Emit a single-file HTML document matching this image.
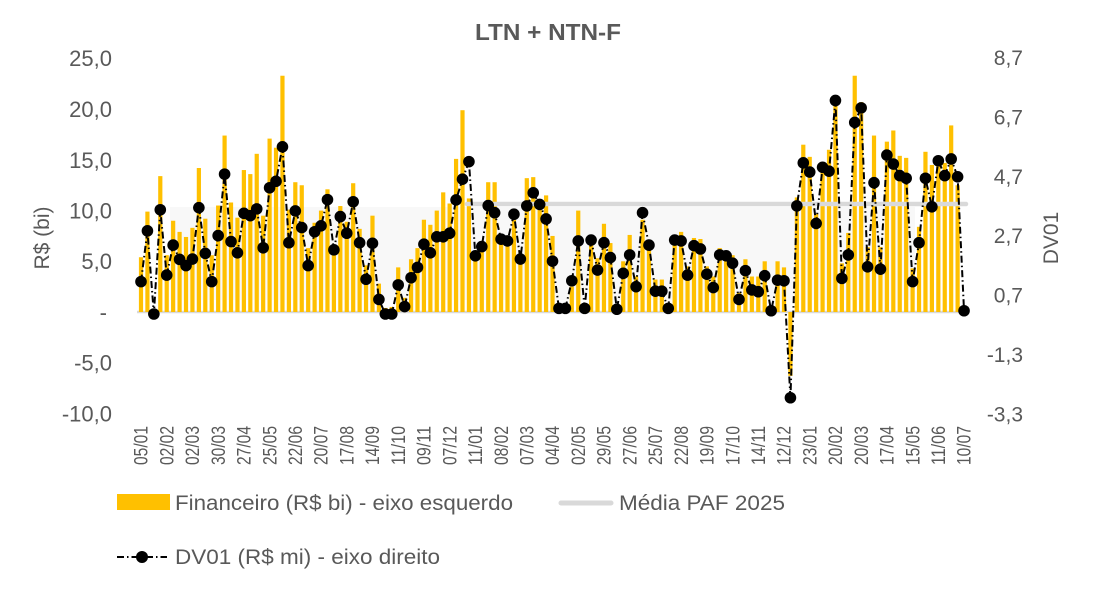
<!DOCTYPE html>
<html>
<head>
<meta charset="utf-8">
<style>
  html,body{margin:0;padding:0;background:#fff;}
  svg{display:block;}
  text{font-family:"Liberation Sans",Arial,sans-serif;fill:#595959;}
</style>
</head>
<body>
<svg id="chart" xmlns="http://www.w3.org/2000/svg" width="1096" height="600" viewBox="0 0 1096 600">
  <rect x="0" y="0" width="1096" height="600" fill="#ffffff"/>
  <!-- faint watermark -->
  <rect x="170" y="207" width="745" height="93" fill="#f8f8f8"/>

  <!-- title -->
  <text x="548" y="40" text-anchor="middle" font-size="23" font-weight="bold" textLength="146" lengthAdjust="spacingAndGlyphs">LTN + NTN-F</text>

  <!-- left ticks -->
  <g font-size="22" text-anchor="end">
    <text x="112" y="66">25,0</text>
    <text x="112" y="117">20,0</text>
    <text x="112" y="168">15,0</text>
    <text x="112" y="218.5">10,0</text>
    <text x="112" y="269">5,0</text>
    <text x="107" y="320">-</text>
    <text x="112" y="370.5">-5,0</text>
    <text x="112" y="421.5">-10,0</text>
  </g>
  <!-- right ticks -->
  <g font-size="21" text-anchor="end">
    <text x="1023" y="65">8,7</text>
    <text x="1023" y="124.5">6,7</text>
    <text x="1023" y="184">4,7</text>
    <text x="1023" y="243">2,7</text>
    <text x="1023" y="302.5">0,7</text>
    <text x="1023" y="362">-1,3</text>
    <text x="1023" y="421.5">-3,3</text>
  </g>
  <!-- axis titles -->
  <text transform="translate(49,238) rotate(-90)" text-anchor="middle" font-size="21">R$ (bi)</text>
  <text transform="translate(1058,238) rotate(-90)" text-anchor="middle" font-size="21">DV01</text>

  <!-- x labels -->
  <g font-size="19" text-anchor="end">
    <text transform="translate(141.0,426) rotate(-90)" dy="0.35em" textLength="39" lengthAdjust="spacingAndGlyphs">05/01</text>
    <text transform="translate(166.7,426) rotate(-90)" dy="0.35em" textLength="39" lengthAdjust="spacingAndGlyphs">02/02</text>
    <text transform="translate(192.4,426) rotate(-90)" dy="0.35em" textLength="39" lengthAdjust="spacingAndGlyphs">02/03</text>
    <text transform="translate(218.2,426) rotate(-90)" dy="0.35em" textLength="39" lengthAdjust="spacingAndGlyphs">30/03</text>
    <text transform="translate(243.9,426) rotate(-90)" dy="0.35em" textLength="39" lengthAdjust="spacingAndGlyphs">27/04</text>
    <text transform="translate(269.6,426) rotate(-90)" dy="0.35em" textLength="39" lengthAdjust="spacingAndGlyphs">25/05</text>
    <text transform="translate(295.3,426) rotate(-90)" dy="0.35em" textLength="39" lengthAdjust="spacingAndGlyphs">22/06</text>
    <text transform="translate(321.0,426) rotate(-90)" dy="0.35em" textLength="39" lengthAdjust="spacingAndGlyphs">20/07</text>
    <text transform="translate(346.8,426) rotate(-90)" dy="0.35em" textLength="39" lengthAdjust="spacingAndGlyphs">17/08</text>
    <text transform="translate(372.5,426) rotate(-90)" dy="0.35em" textLength="39" lengthAdjust="spacingAndGlyphs">14/09</text>
    <text transform="translate(398.2,426) rotate(-90)" dy="0.35em" textLength="39" lengthAdjust="spacingAndGlyphs">11/10</text>
    <text transform="translate(423.9,426) rotate(-90)" dy="0.35em" textLength="39" lengthAdjust="spacingAndGlyphs">09/11</text>
    <text transform="translate(449.6,426) rotate(-90)" dy="0.35em" textLength="39" lengthAdjust="spacingAndGlyphs">07/12</text>
    <text transform="translate(475.4,426) rotate(-90)" dy="0.35em" textLength="39" lengthAdjust="spacingAndGlyphs">11/01</text>
    <text transform="translate(501.1,426) rotate(-90)" dy="0.35em" textLength="39" lengthAdjust="spacingAndGlyphs">08/02</text>
    <text transform="translate(526.8,426) rotate(-90)" dy="0.35em" textLength="39" lengthAdjust="spacingAndGlyphs">07/03</text>
    <text transform="translate(552.5,426) rotate(-90)" dy="0.35em" textLength="39" lengthAdjust="spacingAndGlyphs">04/04</text>
    <text transform="translate(578.2,426) rotate(-90)" dy="0.35em" textLength="39" lengthAdjust="spacingAndGlyphs">02/05</text>
    <text transform="translate(604.0,426) rotate(-90)" dy="0.35em" textLength="39" lengthAdjust="spacingAndGlyphs">29/05</text>
    <text transform="translate(629.7,426) rotate(-90)" dy="0.35em" textLength="39" lengthAdjust="spacingAndGlyphs">27/06</text>
    <text transform="translate(655.4,426) rotate(-90)" dy="0.35em" textLength="39" lengthAdjust="spacingAndGlyphs">25/07</text>
    <text transform="translate(681.1,426) rotate(-90)" dy="0.35em" textLength="39" lengthAdjust="spacingAndGlyphs">22/08</text>
    <text transform="translate(706.8,426) rotate(-90)" dy="0.35em" textLength="39" lengthAdjust="spacingAndGlyphs">19/09</text>
    <text transform="translate(732.6,426) rotate(-90)" dy="0.35em" textLength="39" lengthAdjust="spacingAndGlyphs">17/10</text>
    <text transform="translate(758.3,426) rotate(-90)" dy="0.35em" textLength="39" lengthAdjust="spacingAndGlyphs">14/11</text>
    <text transform="translate(784.0,426) rotate(-90)" dy="0.35em" textLength="39" lengthAdjust="spacingAndGlyphs">12/12</text>
    <text transform="translate(809.7,426) rotate(-90)" dy="0.35em" textLength="39" lengthAdjust="spacingAndGlyphs">23/01</text>
    <text transform="translate(835.4,426) rotate(-90)" dy="0.35em" textLength="39" lengthAdjust="spacingAndGlyphs">20/02</text>
    <text transform="translate(861.2,426) rotate(-90)" dy="0.35em" textLength="39" lengthAdjust="spacingAndGlyphs">20/03</text>
    <text transform="translate(886.9,426) rotate(-90)" dy="0.35em" textLength="39" lengthAdjust="spacingAndGlyphs">17/04</text>
    <text transform="translate(912.6,426) rotate(-90)" dy="0.35em" textLength="39" lengthAdjust="spacingAndGlyphs">15/05</text>
    <text transform="translate(938.3,426) rotate(-90)" dy="0.35em" textLength="39" lengthAdjust="spacingAndGlyphs">11/06</text>
    <text transform="translate(964.0,426) rotate(-90)" dy="0.35em" textLength="39" lengthAdjust="spacingAndGlyphs">10/07</text>
  </g>

  <!-- zero line -->
  <line x1="137" y1="312" x2="969" y2="312" stroke="#d9d9d9" stroke-width="2.5"/>

  <g id="bars" fill="#FFC000"></g>
  <!-- average line -->
  <line x1="467" y1="204" x2="966" y2="204" stroke="#d9d9d9" stroke-width="4.5" stroke-linecap="round"/>
  <path id="dvline" d="" fill="none" stroke="#000" stroke-width="2" stroke-dasharray="7 3 1.5 3"/>
  <g id="dots" fill="#000"></g>

  <!-- legend -->
  <rect x="117" y="494" width="53" height="16" fill="#FFC000"/>
  <text x="175" y="510" font-size="21" textLength="338" lengthAdjust="spacingAndGlyphs">Financeiro (R$ bi) - eixo esquerdo</text>
  <line x1="561" y1="503" x2="611" y2="503" stroke="#d9d9d9" stroke-width="5" stroke-linecap="round"/>
  <text x="619" y="510" font-size="21" textLength="166" lengthAdjust="spacingAndGlyphs">Média PAF 2025</text>
  <line x1="117" y1="557" x2="167" y2="557" stroke="#000" stroke-width="2" stroke-dasharray="7 3 1.5 3"/>
  <circle cx="142" cy="557" r="6" fill="#000"/>
  <text x="175" y="564" font-size="21" textLength="265" lengthAdjust="spacingAndGlyphs">DV01 (R$ mi) - eixo direito</text>
</svg>
<script>
(function(){
var V=[5.4,9.9,0.3,13.4,5.6,9.0,7.9,7.4,8.3,14.2,9.2,5.6,10.5,17.4,10.8,9.3,14.0,13.6,15.6,9.5,17.1,16.2,
23.3,10.1,12.8,12.5,6.3,8.8,10.0,12.1,6.0,10.45,8.9,12.7,8.2,4.6,9.5,2.8,0.4,0.5,4.4,1.4,5.2,6.3,
9.1,8.6,10.0,11.8,10.7,15.1,19.9,11.2,5.5,6.9,12.8,12.8,7.5,7.0,9.1,4.8,13.2,13.3,10.7,11.5,7.5,0.2,
0.2,2.5,10.0,0.3,7.0,5.3,8.7,6.8,0.5,5.0,7.6,3.5,9.1,6.9,3.2,3.2,0.5,7.5,7.9,4.5,7.3,7.2,
4.5,3.5,6.3,6.0,5.6,1.9,5.2,3.5,3.5,5.0,0.5,5.0,4.4,-6.3,11.3,16.5,15.3,9.7,14.7,16.0,20.5,4.8,
7.8,23.3,20.7,6.4,17.4,6.4,16.8,17.9,15.4,15.2,4.3,8.4,15.8,14.5,14.4,14.7,18.4,12.5,0.0];
var D=[1.15,2.86,0.06,3.57,1.37,2.38,1.9,1.69,1.91,3.64,2.1,1.15,2.7,4.77,2.5,2.12,3.45,3.37,3.6,2.29,4.31,4.53,
5.69,2.46,3.53,2.97,1.69,2.83,3.03,3.91,2.22,3.34,2.78,3.84,2.46,1.23,2.44,0.55,0.06,0.06,1.04,0.31,1.28,1.63,
2.41,2.12,2.66,2.66,2.78,3.9,4.6,5.19,2.02,2.33,3.71,3.47,2.58,2.52,3.42,1.91,3.7,4.14,3.75,3.26,1.84,0.25,
0.25,1.18,2.52,0.25,2.55,1.54,2.46,1.96,0.22,1.43,2.05,0.98,3.47,2.38,0.83,0.83,0.25,2.55,2.52,1.37,2.36,2.25,
1.4,0.95,2.05,2.02,1.77,0.55,1.52,0.87,0.81,1.35,0.17,1.2,1.18,-2.76,3.7,5.15,4.84,3.11,5.0,4.87,7.25,1.26,
2.05,6.51,7.0,1.65,4.48,1.57,5.41,5.11,4.72,4.63,1.15,2.46,4.63,3.67,5.22,4.72,5.28,4.68,0.17];
var ns="http://www.w3.org/2000/svg";
var bars=document.getElementById("bars"),dots=document.getElementById("dots");
var d="";
for(var i=0;i<V.length;i++){
  var x=141+i*6.43;
  var y=312-V[i]*10.14;
  var r=document.createElementNS(ns,"rect");
  r.setAttribute("x",(x-2.1).toFixed(2));
  r.setAttribute("y",Math.min(y,312).toFixed(2));
  r.setAttribute("width","4.2");
  r.setAttribute("height",Math.abs(312-y).toFixed(2));
  bars.appendChild(r);
}
for(var j=0;j<D.length;j++){
  var xx=141+j*6.43;
  var yy=295-(D[j]-0.7)*29.7;
  d+=(j?"L":"M")+xx.toFixed(2)+" "+yy.toFixed(2);
  var c=document.createElementNS(ns,"circle");
  c.setAttribute("cx",xx.toFixed(2));
  c.setAttribute("cy",yy.toFixed(2));
  c.setAttribute("r","5.8");
  dots.appendChild(c);
}
document.getElementById("dvline").setAttribute("d",d);
})();
</script>
</body>
</html>
